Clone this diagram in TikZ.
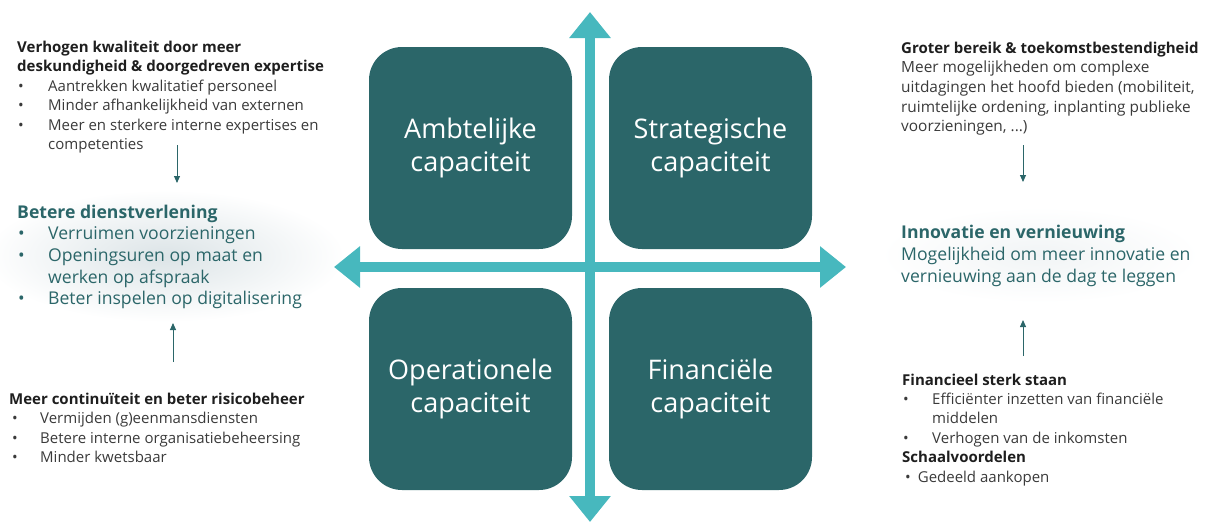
\documentclass[tikz,border=0pt]{standalone}
\usepackage{fontspec}
\setmainfont{Open Sans}
\usetikzlibrary{arrows.meta}
\definecolor{boxteal}{HTML}{2B6669}
\definecolor{arrteal}{HTML}{47B8BE}
\definecolor{txtteal}{HTML}{2B6669}
\definecolor{bodygray}{HTML}{3A3A3A}
\definecolor{headblack}{HTML}{1E1E1E}
\definecolor{glow}{HTML}{DCE4E7}
\begin{document}
\begin{tikzpicture}[x=1pt,y=-1pt,
  capbox/.style={fill=boxteal, rounded corners=33pt, minimum width=203pt, minimum height=202pt,
    text=white, align=center, font=\fontsize{27}{33}\selectfont, inner sep=0},
  bigarrow/.style={arrteal, line width=10pt, {Triangle[width=40pt,length=26pt]}-{Triangle[width=40pt,length=26pt]}},
  smallarrow/.style={txtteal, line width=0.9pt, -{Triangle[width=6pt,length=7pt]}},
  block/.style={anchor=base west, inner sep=0}]
\useasboundingbox (0,0) rectangle (1212,523);

% soft glows
\shade[inner color=glow, outer color=white] (165,256) ellipse [x radius=180pt, y radius=66pt];
\shade[inner color=glow!40, outer color=white] (1040,255) ellipse [x radius=160pt, y radius=48pt];

% quadrant boxes
\node[capbox] (amb) at (470.5,148) {Ambtelijke\\capaciteit};
\node[capbox] (str) at (710.5,148) {Strategische\\capaciteit};
\node[capbox] (ope) at (470.5,389) {Operationele\\capaciteit};
\node[capbox] (fin) at (710.5,389) {Financiële\\capaciteit};

% big cross arrows
\coordinate (hl) at (334,267);
\coordinate (hr) at (846,267);
\coordinate (vt) at (590,12);
\coordinate (vb) at (590,522);
\draw[bigarrow] (hl) -- (hr);
\draw[bigarrow] (vt) -- (vb);

% left top
\node[block] (lt) at (17,52) {\fontsize{15}{19.5}\selectfont\color{bodygray}\begin{tabular}[t]{@{}p{31pt}@{}l@{}}
\multicolumn{2}{@{}l@{}}{\color{headblack}\bfseries Verhogen kwaliteit door meer}\\
\multicolumn{2}{@{}l@{}}{\color{headblack}\bfseries deskundigheid \& doorgedreven expertise}\\
\hspace{1pt}\textbullet & Aantrekken kwalitatief personeel\\
\hspace{1pt}\textbullet & Minder afhankelijkheid van externen\\
\hspace{1pt}\textbullet & Meer en sterkere interne expertises en\\
 & competenties
\end{tabular}};

% left middle
\node[block] (lm) at (17,218) {\fontsize{17.6}{21.7}\selectfont\color{txtteal}\begin{tabular}[t]{@{}p{31pt}@{}l@{}}
\multicolumn{2}{@{}l@{}}{\bfseries Betere dienstverlening}\\
\hspace{1pt}\textbullet & Verruimen voorzieningen\\
\hspace{1pt}\textbullet & Openingsuren op maat en\\
 & werken op afspraak\\
\hspace{1pt}\textbullet & Beter inspelen op digitalisering
\end{tabular}};

% left bottom
\node[block] (lb) at (9,404) {\fontsize{15}{19.5}\selectfont\color{bodygray}\begin{tabular}[t]{@{}p{31pt}@{}l@{}}
\multicolumn{2}{@{}l@{}}{\color{headblack}\bfseries Meer continuïteit en beter risicobeheer}\\
\hspace{3pt}\textbullet & Vermijden (g)eenmansdiensten\\
\hspace{3pt}\textbullet & Betere interne organisatiebeheersing\\
\hspace{3pt}\textbullet & Minder kwetsbaar
\end{tabular}};

% right top
\node[block] (rt) at (901,53) {\fontsize{15.4}{19.7}\selectfont\color{bodygray}\begin{tabular}[t]{@{}l@{}}
{\fontsize{15}{19.7}\selectfont\color{headblack}\bfseries Groter bereik \& toekomstbestendigheid}\\
Meer mogelijkheden om complexe\\
uitdagingen het hoofd bieden (mobiliteit,\\
ruimtelijke ordening, inplanting publieke\\
voorzieningen, ...)
\end{tabular}};

% right middle
\node[block] (rm) at (901,238) {\fontsize{17.6}{22}\selectfont\color{txtteal}\begin{tabular}[t]{@{}l@{}}
{\bfseries Innovatie en vernieuwing}\\
Mogelijkheid om meer innovatie en\\
vernieuwing aan de dag te leggen
\end{tabular}};

% right bottom
\node[block] (rb) at (902,385) {\fontsize{15}{19.4}\selectfont\color{bodygray}\begin{tabular}[t]{@{}p{30pt}@{}l@{}}
\multicolumn{2}{@{}l@{}}{\color{headblack}\bfseries Financieel sterk staan}\\
\hspace{1pt}\textbullet & Efficiënter inzetten van financiële\\
 & middelen\\
\hspace{1pt}\textbullet & Verhogen van de inkomsten\\
\multicolumn{2}{@{}l@{}}{\color{headblack}\bfseries Schaalvoordelen}\\
\multicolumn{2}{@{}l@{}}{\hspace{3pt}\textbullet\hspace{7pt}Gedeeld aankopen}
\end{tabular}};

% small arrows
\coordinate (a1s) at (177,145); \coordinate (a1e) at (177,183);
\coordinate (a2s) at (173,362); \coordinate (a2e) at (173,323);
\coordinate (a3s) at (1023,145); \coordinate (a3e) at (1023,182);
\coordinate (a4s) at (1023,356); \coordinate (a4e) at (1023,320);
\draw[smallarrow] (a1s) -- (a1e);
\draw[smallarrow] (a2s) -- (a2e);
\draw[smallarrow] (a3s) -- (a3e);
\draw[smallarrow] (a4s) -- (a4e);
\end{tikzpicture}
\end{document}
